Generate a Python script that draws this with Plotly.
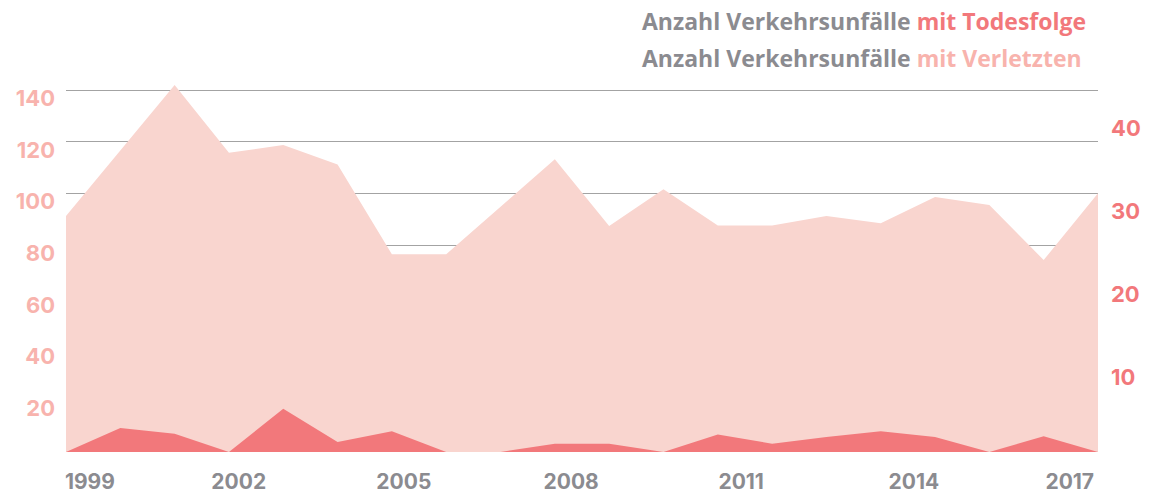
import plotly.graph_objects as go

# 20 evenly spaced data points along the x axis (index positions)
points = list(range(20))

# Left axis: accidents with injuries (light area)
injured = [91.3, 116.7, 142.0, 115.8, 118.8, 111.3, 76.5, 76.5, 94.9, 113.3,
           87.5, 101.7, 87.7, 87.7, 91.3, 88.5, 98.7, 95.6, 74.3, 100.1]
# Right axis: accidents with fatalities (dark area)
fatal = [0, 2.9, 2.2, 0, 5.2, 1.2, 2.5, 0, 0, 1.0,
         1.0, 0, 2.1, 1.0, 1.8, 2.5, 1.8, 0, 1.9, 0]

year_labels = ["1999", "2002", "2005", "2008", "2011", "2014", "2017"]
year_label_pos = [0.44, 3.18, 6.22, 9.3, 12.43, 15.61, 18.48]

left_ticks = [20, 40, 60, 80, 100, 120, 140]
right_ticks = [10, 20, 30, 40]

GRAY = "#8B8B90"
DARK = "#F2787B"
LIGHT_FILL = "#F9D5CF"
LIGHT_TXT = "#F8B3AD"
TICK_FONT = "Inter"
TITLE_FONT = "Open Sans"

# page body has an 8px default margin
OFF = 8
W, H = 1157 - OFF, 493 - OFF
PLOT_L, PLOT_R, PLOT_T, PLOT_B = 66 - OFF, 1098 - OFF, 80 - OFF, 452 - OFF
plot_w = PLOT_R - PLOT_L
plot_h = PLOT_B - PLOT_T

fig = go.Figure()
fig.add_trace(go.Scatter(
    x=points, y=injured, mode="lines", fill="tozeroy",
    fillcolor=LIGHT_FILL, line=dict(width=0, color=LIGHT_FILL),
    yaxis="y", hoverinfo="skip", showlegend=False))
fig.add_trace(go.Scatter(
    x=points, y=fatal, mode="lines", fill="tozeroy",
    fillcolor=DARK, line=dict(width=0, color=DARK),
    yaxis="y2", hoverinfo="skip", showlegend=False))

fig.update_layout(
    template="none",
    width=W, height=H,
    margin=dict(l=PLOT_L, r=W - PLOT_R, t=PLOT_T, b=H - PLOT_B, autoexpand=False),
    paper_bgcolor="white", plot_bgcolor="white",
    xaxis=dict(range=[0, 19], tickvals=year_label_pos, ticktext=year_labels,
               showgrid=False, zeroline=False, showline=False, ticks="",
               automargin=False,
               tickfont=dict(family=TICK_FONT, size=21, color=GRAY, weight="bold"),
               ticklabelstandoff=15),
    yaxis=dict(range=[0, 143.96], tickvals=left_ticks, showgrid=True,
               gridcolor="#A3A3A3", gridwidth=1, zeroline=False, showline=False,
               ticks="", automargin=False,
               tickfont=dict(family=TICK_FONT, size=22, color=LIGHT_TXT, weight="bold"),
               ticklabelshift=8, ticklabelstandoff=10),
    yaxis2=dict(range=[0, 44.82], tickvals=right_ticks, overlaying="y", side="right",
                showgrid=False, zeroline=False, showline=False, ticks="",
                automargin=False,
                tickfont=dict(family=TICK_FONT, size=22, color=DARK, weight="bold"),
                ticklabelshift=8, ticklabelstandoff=12),
)

title_x = (640 - 66) / 1032
fig.add_annotation(
    xref="paper", yref="paper", x=title_x, y=(452 - 21) / 372,
    xanchor="left", yanchor="middle", showarrow=False,
    text=f"<b>Anzahl Verkehrsunfälle <span style='color:{DARK}'>mit Todesfolge</span></b>",
    font=dict(family=TITLE_FONT, size=23, color=GRAY))
fig.add_annotation(
    xref="paper", yref="paper", x=title_x, y=(452 - 58) / 372,
    xanchor="left", yanchor="middle", showarrow=False,
    text=f"<b>Anzahl Verkehrsunfälle <span style='color:{LIGHT_TXT}'>mit Verletzten</span></b>",
    font=dict(family=TITLE_FONT, size=23, color=GRAY))

fig.write_html("out.html")
